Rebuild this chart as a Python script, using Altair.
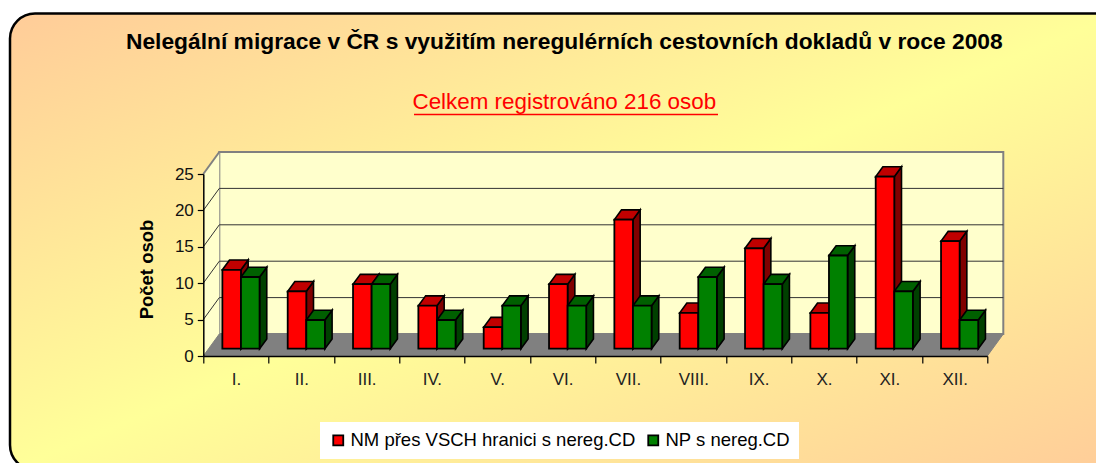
import altair as alt
import pandas as pd

months = ["I.", "II.", "III.", "IV.", "V.", "VI.", "VII.", "VIII.", "IX.", "X.", "XI.", "XII."]
red_values = [11, 8, 9, 6, 3, 9, 18, 5, 14, 5, 24, 15]
green_values = [10, 4, 9, 4, 6, 6, 6, 10, 9, 13, 8, 4]
series_names = ["NM přes VSCH hranici s nereg.CD", "NP s nereg.CD"]
grid_values = [5, 10, 15, 20]

FONT = "Liberation Sans"
W, H = 784, 182
PX = 12 / W      # x data units per pixel
PY = 25 / H      # y data units per pixel
WALL_DX, WALL_DY = 16 * PX, 22 * PY
BAR_DX, BAR_DY = 5 * PX, 7.3 * PY
BAR_W = 18.6 * PX
SIDE_DX, SIDE_DY = 7.2 * PX, 9.8 * PY
FORESHORTEN = 0.985   # bars stand mid-depth, a little smaller than the front axis

xs = alt.Scale(domain=[0, 12], nice=False, zero=False)
ys = alt.Scale(domain=[0, 25], nice=False, zero=False)
month_labels = "[" + ",".join(f"'{m}'" for m in months) + "]"
x_axis = alt.Axis(
    values=list(range(13)), title=None, grid=False, domainColor="#000000", domainWidth=1.5,
    tickColor="#000000", tickWidth=1.2, tickSize=7, zindex=1,
    labelExpr=f"{month_labels}[datum.value] || ''", labelOffset=W / 24, labelPadding=8,
    labelFont=FONT, labelFontSize=17, labelColor="#222222", labelFlush=False,
    labelOverlap=False, labelBound=False)
y_axis = alt.Axis(
    values=[0, 5, 10, 15, 20, 25], title="Počet osob", grid=False, domainColor="#000000", domainWidth=1.5,
    tickColor="#000000", tickWidth=1.2, tickSize=6, labelPadding=4, zindex=1,
    labelFont=FONT, labelFontSize=17, labelColor="#111111",
    titleFont=FONT, titleFontSize=18.5, titleFontWeight="bold", titleColor="#000000", titlePadding=18,
    titleY=95)
X = lambda f: alt.X(f, type="quantitative", scale=xs, axis=x_axis)
Y = lambda f: alt.Y(f, type="quantitative", scale=ys, axis=y_axis)

fronts, sides, tops = [], [], []
for s, (name, vals) in enumerate(zip(series_names, [red_values, green_values])):
    for i, v in enumerate(vals):
        x0 = i + 0.5 + BAR_DX - BAR_W + s * BAR_W
        x1 = x0 + BAR_W
        y0 = BAR_DY
        y1 = v * FORESHORTEN + BAR_DY
        key = f"{s}-{i}"
        fronts.append(dict(series=name, x0=x0, x1=x1, y0=y0, y1=y1))
        sides += [
            dict(s=s, key=key, x=x1, y=y1, y2=y0),
            dict(s=s, key=key, x=x1 + SIDE_DX, y=y1 + SIDE_DY, y2=y0 + SIDE_DY),
        ]
        tops += [
            dict(s=s, key=key, y=y1, x=x0, x2=x1),
            dict(s=s, key=key, y=y1 + SIDE_DY, x=x0 + SIDE_DX, x2=x1 + SIDE_DX),
        ]
fronts, sides, tops = map(pd.DataFrame, (fronts, sides, tops))

one = alt.Data(values=[{"a": 1}])

gradient = alt.LinearGradient(
    gradient="linear", x1=0, y1=0, x2=1, y2=1,
    stops=[alt.GradientStop(offset=0, color="#FFCC99"),
           alt.GradientStop(offset=0.5, color="#FFFF99"),
           alt.GradientStop(offset=1, color="#FFCC99")],
)
panel = alt.Chart(one).mark_rect(
    fill=gradient, stroke="#000000", strokeWidth=2.5, cornerRadius=25
).encode(x=alt.value(-193.3), x2=alt.value(916.7), y=alt.value(-160.5), y2=alt.value(296))

# walls and floor
back = alt.Chart(pd.DataFrame([dict(x=WALL_DX, x2=12 + WALL_DX, y=WALL_DY, y2=25 + WALL_DY)])).mark_rect(
    fill="#FFFFCC", stroke="#808080", strokeWidth=2
).encode(X("x"), x2="x2", y=Y("y"), y2="y2")

left = alt.Chart(pd.DataFrame([dict(x=0, y=0, y2=25), dict(x=WALL_DX, y=WALL_DY, y2=25 + WALL_DY)])).mark_area(
    fill="#FFFFCC", orient="vertical"
).encode(X("x"), y=Y("y"), y2="y2")

left_top = alt.Chart(pd.DataFrame([dict(x=0, x2=WALL_DX, y=25, y2=25 + WALL_DY)])).mark_rule(
    color="#808080", strokeWidth=2
).encode(X("x"), x2="x2", y=Y("y"), y2="y2")

floor = alt.Chart(pd.DataFrame([dict(y=0, x=0, x2=12), dict(y=WALL_DY, x=WALL_DX, x2=12 + WALL_DX)])).mark_area(
    fill="#808080", stroke="#808080", strokeWidth=1, orient="horizontal"
).encode(y=Y("y"), x=X("x"), x2="x2")

grid_df = pd.DataFrame({"v": grid_values})
grid_back = alt.Chart(grid_df).transform_calculate(
    yy=f"datum.v + {WALL_DY}", x0=str(WALL_DX), x1=str(12 + WALL_DX)
).mark_rule(color="#333333", strokeWidth=1).encode(X("x0"), x2="x1:Q", y=Y("yy"))
grid_side = alt.Chart(grid_df).transform_calculate(
    yy=f"datum.v + {WALL_DY}", x0="0", x1=str(WALL_DX)
).mark_rule(color="#333333", strokeWidth=1).encode(X("x0"), x2="x1:Q", y=Y("v"), y2="yy:Q")

# bars
layers = []
for s, side_c, top_c in [(0, "#800000", "#C00000"), (1, "#004000", "#006000")]:
    layers.append(alt.Chart(sides[sides.s == s]).mark_area(
        fill=side_c, stroke="#000000", strokeWidth=1.6, orient="vertical"
    ).encode(X("x"), y=Y("y"), y2="y2", detail="key:N"))
    layers.append(alt.Chart(tops[tops.s == s]).mark_area(
        fill=top_c, stroke="#000000", strokeWidth=1.6, orient="horizontal"
    ).encode(y=Y("y"), x=X("x"), x2="x2", detail="key:N"))

front = alt.Chart(fronts).mark_rect(stroke="#000000", strokeWidth=1.8).encode(
    x=X("x0"), x2="x1",
    y=Y("y0"), y2="y1",
    fill=alt.Fill("series:N",
                  scale=alt.Scale(domain=series_names, range=["#FF0000", "#008000"]),
                  legend=alt.Legend(
                      title=None, orient="none", legendX=116.7, legendY=248,
                      direction="horizontal", columns=2, fillColor="#FFFFFF", padding=9,
                      symbolType="square", symbolSize=100, symbolStrokeColor="#000000",
                      symbolStrokeWidth=1.8, symbolOpacity=1,
                      labelFont=FONT, labelFontSize=18.5, labelColor="#000000",
                      labelLimit=400, columnPadding=8, labelOffset=3,
                  )),
)

underline = alt.Chart(one).mark_rule(color="#FF0000", strokeWidth=1.5).encode(
    x=alt.value(210.7), x2=alt.value(514.7), y=alt.value(-59.5))

chart = alt.layer(panel, back, left, left_top, floor, grid_back, grid_side, *layers, front, underline).properties(
    width=W, height=H,
    title=alt.TitleParams(
        text="Nelegální migrace v ČR s využitím neregulérních cestovních dokladů v roce 2008",
        subtitle="Celkem registrováno 216 osob",
        anchor="middle", dx=-31, offset=-101,
        font=FONT, fontSize=22.8, fontWeight="bold", color="#000000",
        subtitleFont=FONT, subtitleFontSize=22.4, subtitleColor="#FF0000", subtitleFontWeight="normal",
        subtitlePadding=37,
    ),
    padding={"left": 195.3, "top": 166, "right": 108.7, "bottom": 107},
    autosize=alt.AutoSizeParams(type="none"),
).configure_view(stroke=None).configure(background="#FFFFFF")

chart.save("out.html", embed_options={"renderer": "svg", "actions": False})
